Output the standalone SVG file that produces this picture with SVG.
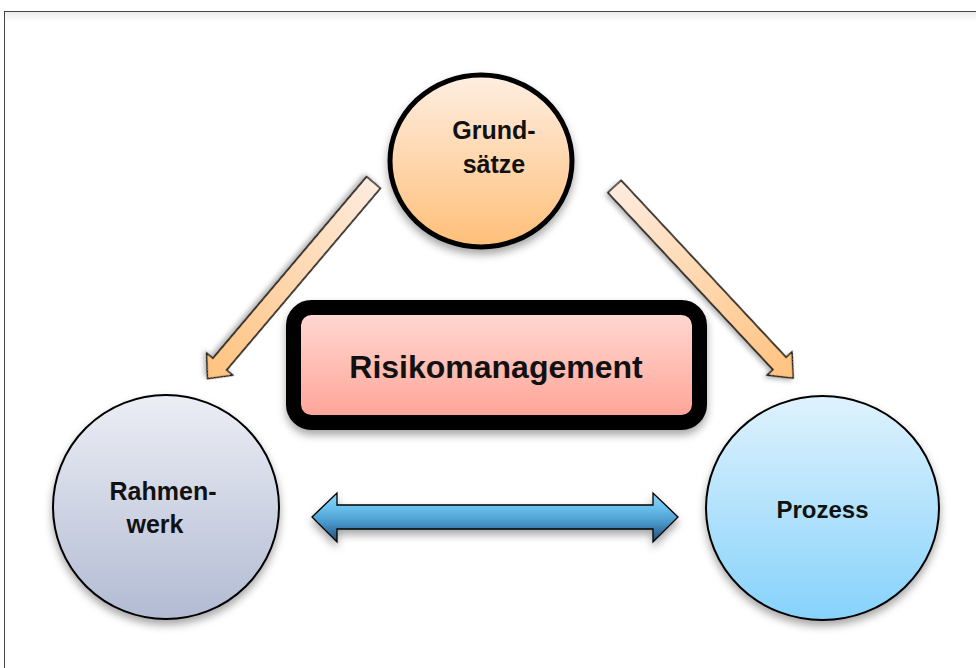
<svg xmlns="http://www.w3.org/2000/svg" width="976" height="668" viewBox="0 0 976 668">
<defs>
<style>
.lbl{font-family:"Liberation Sans",Arial,sans-serif;font-weight:bold;fill:#111;text-anchor:middle}
.node{stroke:#000}
.arr{stroke:#000;stroke-width:1.3;stroke-linejoin:miter}
</style>
<linearGradient id="gTop" x1="0" y1="0" x2="0" y2="1"><stop offset="0" stop-color="#FEEEE2"/><stop offset="1" stop-color="#FFBF78"/></linearGradient>
<linearGradient id="gLeft" x1="0" y1="0" x2="0" y2="1"><stop offset="0" stop-color="#ECEEF5"/><stop offset="1" stop-color="#B2BBD3"/></linearGradient>
<linearGradient id="gRight" x1="0" y1="0" x2="0" y2="1"><stop offset="0" stop-color="#DFF2FD"/><stop offset="1" stop-color="#86D2FB"/></linearGradient>
<linearGradient id="gBox" x1="0" y1="0" x2="0" y2="1"><stop offset="0" stop-color="#FFDAD5"/><stop offset="1" stop-color="#FFA294"/></linearGradient>
<linearGradient id="gArr" x1="0" y1="0" x2="1" y2="0"><stop offset="0" stop-color="#FEEBDD"/><stop offset="1" stop-color="#FFC27E"/></linearGradient>
<linearGradient id="gBlue" x1="0" y1="0" x2="0" y2="1"><stop offset="0" stop-color="#8ED6F7"/><stop offset="0.3" stop-color="#68C0EC"/><stop offset="0.6" stop-color="#4A98CB"/><stop offset="1" stop-color="#1F4A72"/></linearGradient>
<linearGradient id="gBar" x1="0" y1="0" x2="0" y2="1"><stop offset="0" stop-color="#EDEDED"/><stop offset="1" stop-color="#FFFFFF"/></linearGradient>
<filter id="sh" x="-20%" y="-20%" width="140%" height="150%"><feDropShadow dx="0" dy="5" stdDeviation="4" flood-color="#000" flood-opacity="0.35"/></filter>
<filter id="shs" x="-20%" y="-50%" width="140%" height="200%"><feDropShadow dx="0" dy="3" stdDeviation="2.5" flood-color="#000" flood-opacity="0.3"/></filter>
</defs>
<rect x="0" y="0" width="976" height="668" fill="#fff"/>
<rect x="4.5" y="11.5" width="980" height="670" fill="#fff" stroke="#444" stroke-width="1"/>
<rect x="5" y="12" width="971" height="10" fill="url(#gBar)"/>

<g id="connectors">
<path class="arr" fill="url(#gArr)" filter="url(#shs)" transform="translate(373.5,182.5) rotate(130.25)" d="M0,-9 L238,-9 L238,-17 L257,0 L238,17 L238,9 L0,9 Z"/>
<path class="arr" fill="url(#gArr)" filter="url(#shs)" transform="translate(614.5,186.5) rotate(47)" d="M0,-9 L242,-9 L242,-17 L262,0 L242,17 L242,9 L0,9 Z"/>
<path id="double-arrow" class="arr" fill="url(#gBlue)" filter="url(#sh)" d="M312,517 L337,493 L337,505 L653,505 L653,493 L678,517 L653,542 L653,529 L337,529 L337,542 Z"/>
</g>

<g id="risikomanagement">
<rect x="293.5" y="307.5" width="406" height="115" rx="18" ry="18" fill="url(#gBox)" stroke="#000" stroke-width="15" filter="url(#sh)"/>
<text class="lbl" x="496" y="378" font-size="32">Risikomanagement</text>
</g>

<g id="grundsaetze">
<ellipse class="node" cx="481" cy="161" rx="91" ry="86" fill="url(#gTop)" stroke-width="5" filter="url(#sh)"/>
<text class="lbl" x="494" y="139" font-size="25">Grund-</text>
<text class="lbl" x="494" y="173" font-size="25">sätze</text>
</g>

<g id="rahmenwerk">
<ellipse class="node" cx="166" cy="507" rx="113" ry="112" fill="url(#gLeft)" stroke-width="2" filter="url(#sh)"/>
<text class="lbl" x="163" y="500" font-size="25">Rahmen-</text>
<text class="lbl" x="155" y="533" font-size="25">werk</text>
</g>

<g id="prozess">
<ellipse class="node" cx="822.5" cy="508" rx="116.5" ry="112" fill="url(#gRight)" stroke-width="2" filter="url(#sh)"/>
<text class="lbl" x="822.5" y="518" font-size="24">Prozess</text>
</g>
</svg>
